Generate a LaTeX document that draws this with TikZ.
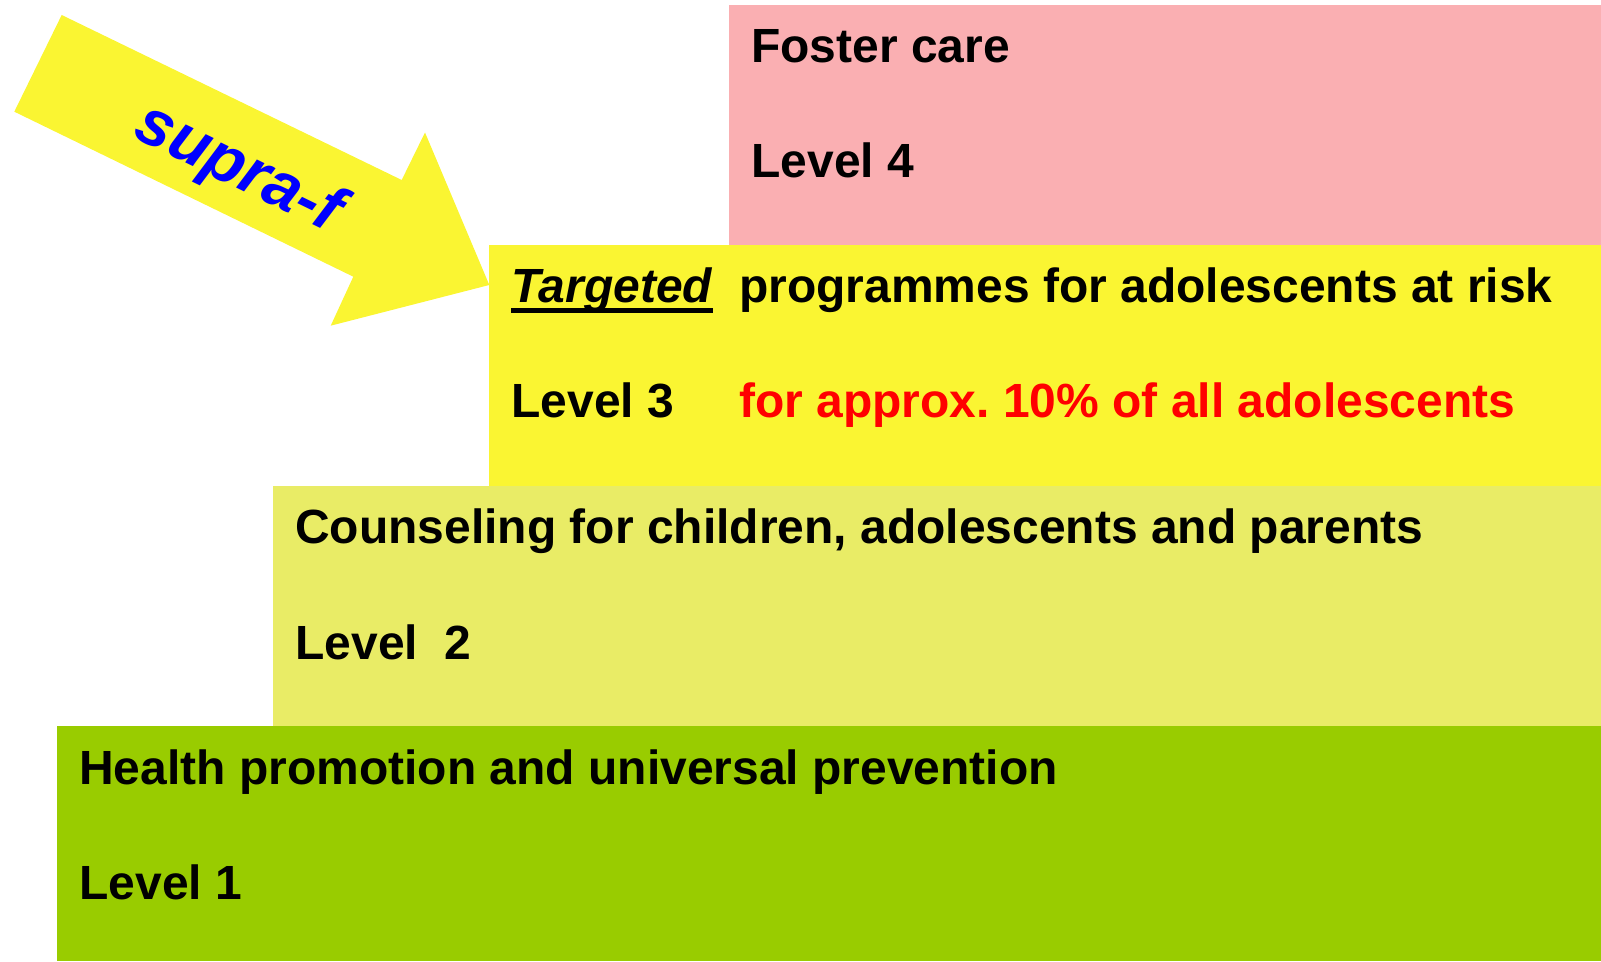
\documentclass[tikz,border=0pt]{standalone}
\usepackage{fontspec}
\setmainfont{Liberation Sans}
\usepackage{xcolor}
\usepackage{tikz}
\usetikzlibrary{positioning}
\definecolor{rosa}{RGB}{250,175,178}
\definecolor{amarelo}{RGB}{250,245,50}
\definecolor{amareloclaro}{RGB}{233,236,102}
\definecolor{verde}{RGB}{153,204,0}
\frenchspacing

\begin{document}
\begin{tikzpicture}[
  txt/.style={anchor=base west, inner sep=0pt,
    font=\bfseries\fontsize{27.3}{33}\selectfont}]
  \useasboundingbox (0,0) rectangle (32.02,19.22);
  % n\'ivel 4
  \fill[rosa] (14.58,14.32) rectangle (32.02,19.12);
  \node[txt] (foster) at (15.02,17.96) {Foster care};
  \node[txt] (lvl4) at (15.02,15.66) {Level 4};
  % n\'ivel 3
  \fill[amarelo] (9.78,9.50) rectangle (32.02,14.32);
  \node[txt, font=\bfseries\itshape\fontsize{27.3}{33}\selectfont] (tgt)
    at (10.22,13.16) {Targeted};
  \draw[line width=0.09cm] ([yshift=-0.15cm]tgt.base west)
    -- ([yshift=-0.15cm]tgt.base east);
  \node[txt] (prog) at (14.78,13.16) {programmes for adolescents at risk};
  \node[txt] (lvl3) at (10.22,10.86) {Level 3};
  \node[txt, text=red] (pct) at (14.78,10.86)
    {for approx. 10\% of all adolescents};
  % n\'ivel 2
  \fill[amareloclaro] (5.46,4.70) rectangle (32.02,9.50);
  \node[txt] (couns) at (5.90,8.34)
    {Counseling for children, adolescents and parents};
  \node[txt] (lvl2) at (5.90,6.04) {Level\ \ 2};
  % n\'ivel 1
  \fill[verde] (1.14,0) rectangle (32.02,4.70);
  \node[txt] (health) at (1.58,3.54)
    {Health promotion and universal prevention};
  \node[txt] (lvl1) at (1.58,1.24) {Level 1};
  % seta
  \fill[amarelo] (1.234,18.92) -- (8.034,15.62) -- (8.50,16.57)
    -- (9.786,13.52) -- (6.614,12.706) -- (7.066,13.686)
    -- (0.286,16.986) -- cycle;
  \node[rotate=-26, text=blue,
    font=\bfseries\itshape\fontsize{37}{42}\selectfont] (supraf)
    at (4.76,15.82) {supra-f};
\end{tikzpicture}
\end{document}
